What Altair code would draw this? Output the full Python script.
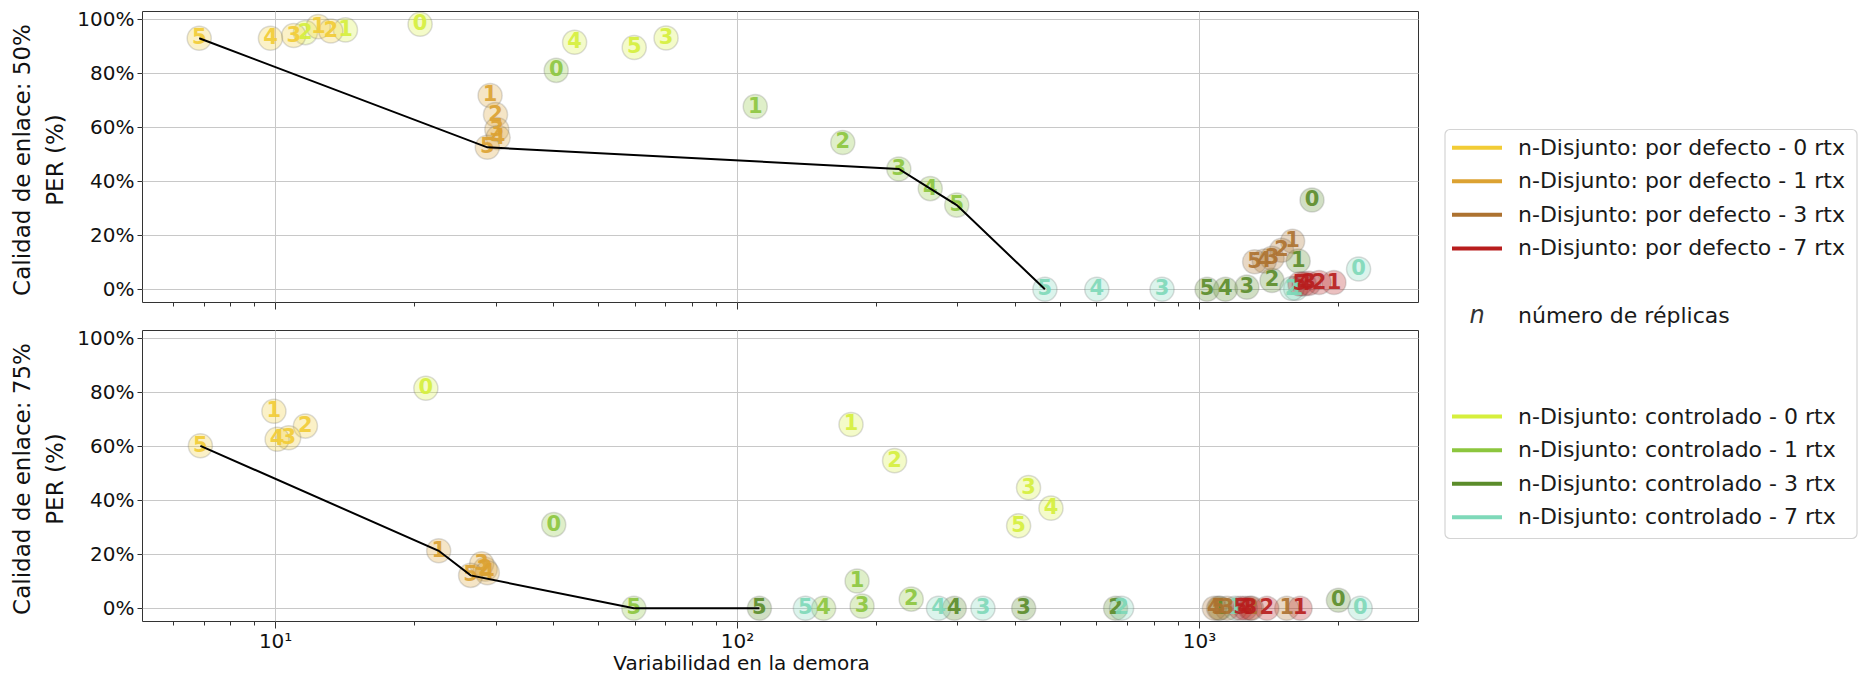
import altair as alt
import pandas as pd

# ---------------- data ----------------
SERIES = ["def0", "def1", "def3", "def7", "ctl0", "ctl1", "ctl3", "ctl7"]
COLORS = ["#F2CC35", "#DCA232", "#AD7230", "#B81D1D",
          "#D6EF3C", "#8CC63E", "#5B8C2A", "#7ED9B9"]
LEGEND_LABELS = [
    "n-Disjunto: por defecto - 0 rtx",
    "n-Disjunto: por defecto - 1 rtx",
    "n-Disjunto: por defecto - 3 rtx",
    "n-Disjunto: por defecto - 7 rtx",
    "n-Disjunto: controlado - 0 rtx",
    "n-Disjunto: controlado - 1 rtx",
    "n-Disjunto: controlado - 3 rtx",
    "n-Disjunto: controlado - 7 rtx",
]
LEGEND_ROWS = [0, 1, 2, 3, 8, 9, 10, 11]
REPLICA_SYMBOL = ["n"]
REPLICA_LABEL = ["número de réplicas"]
REPLICA_ROW = [5]

N_CTL = [0, 1, 2, 3, 4, 5]
N_DEF = [1, 2, 3, 4, 5]

# link quality 50 %
p50_ctl0_x = [20.6, 14.2, 11.63, 70.2, 44.5, 59.9]
p50_ctl0_y = [98.2, 96.1, 95.1, 93.1, 91.5, 89.6]
p50_ctl1_x = [40.6, 109.5, 169.4, 224, 262, 299]
p50_ctl1_y = [81.1, 67.7, 54.4, 44.6, 37.3, 31.2]
p50_ctl3_x = [1757, 1640, 1439, 1270, 1141, 1041]
p50_ctl3_y = [33.1, 10.5, 3.3, 0.8, 0.0, 0.0]
p50_ctl7_x = [2216, 1620, 1590, 832, 601, 464]
p50_ctl7_y = [7.5, 0.3, 0.3, 0.0, 0.0, 0.0]
p50_def0_x = [12.4, 13.2, 10.97, 9.77, 6.85]
p50_def0_y = [97.3, 95.7, 94.0, 93.0, 93.0]
p50_def1_x = [29.2, 30.0, 30.2, 30.4, 28.8]
p50_def1_y = [71.8, 64.7, 59.2, 56.2, 52.6]
p50_def3_x = [1595, 1510, 1440, 1385, 1320]
p50_def3_y = [17.8, 14.5, 11.5, 10.5, 10.2]
p50_def7_x = [1960, 1820, 1730, 1690, 1654]
p50_def7_y = [2.5, 2.5, 2.2, 2.0, 2.0]
p50_front_x = [6.85, 28.8, 224, 262, 299, 464]
p50_front_y = [93.0, 52.6, 44.6, 37.3, 31.2, 0.0]

# link quality 75 %
p75_ctl0_x = [21.2, 176.5, 219.3, 427.6, 478.2, 407]
p75_ctl0_y = [81.5, 68.1, 54.7, 44.7, 37.1, 30.6]
p75_ctl1_x = [40.1, 181.9, 238.3, 186.5, 154, 59.8]
p75_ctl1_y = [31.0, 10.1, 3.4, 0.8, 0.0, 0.0]
p75_ctl3_x = [2004, 1110, 660, 417.4, 295.4, 111.8]
p75_ctl3_y = [3.0, 0.0, 0.0, 0.0, 0.0, 0.0]
p75_ctl7_x = [2234, 1198, 680, 340.7, 273, 140.6]
p75_ctl7_y = [0.0, 0.0, 0.0, 0.0, 0.0, 0.0]
p75_def0_x = [9.94, 11.63, 10.7, 10.1, 6.89]
p75_def0_y = [73.0, 67.5, 63.2, 62.6, 60.2]
p75_def1_x = [22.6, 28.5, 28.0, 28.8, 26.5]
p75_def1_y = [21.3, 14.5, 16.5, 13.2, 12.2]
p75_def3_x = [1549, 1300, 1150, 1080, 1103]
p75_def3_y = [0.0, 0.0, 0.0, 0.0, 0.0]
p75_def7_x = [1656, 1403, 1290, 1260, 1230]
p75_def7_y = [0.0, 0.0, 0.0, 0.0, 0.0]
p75_front_x = [6.89, 22.6, 26.5, 59.8, 111.8]
p75_front_y = [60.2, 21.3, 12.2, 0.0, 0.0]

X_TICKS = [6, 7, 8, 9, 10, 20, 30, 40, 50, 60, 70, 80, 90,
           100, 200, 300, 400, 500, 600, 700, 800, 900, 1000, 2000]
Y_TICKS = [0, 20, 40, 60, 80, 100]

# ---------------- helpers ----------------
def points_frame(prefix):
    g = globals()
    order = ["ctl0", "ctl1", "ctl3", "ctl7", "def0", "def1", "def3", "def7"]
    rows = []
    for s in order:
        ns = N_CTL if s.startswith("ctl") else N_DEF
        xs = g[f"{prefix}_{s}_x"]
        ys = g[f"{prefix}_{s}_y"]
        for n, x, y in zip(ns, xs, ys):
            rows.append({"serie": s, "n": str(n), "x": x, "y": y})
    return pd.DataFrame(rows)


def front_frame(prefix):
    g = globals()
    xs = g[f"{prefix}_front_x"]
    ys = g[f"{prefix}_front_y"]
    return pd.DataFrame({"x": xs, "y": ys, "i": list(range(len(xs)))})


W = 1276
H = 291
GAP = 28
FONT = "DejaVu Sans"
MAJOR = "indexof([10, 100, 1000], datum.value) >= 0"

color_scale = alt.Scale(domain=SERIES, range=COLORS)
x_scale = alt.Scale(type="log", domain=[5.15, 2980], nice=False)
y_scale = alt.Scale(domain=[-4.7, 103.1], nice=False, zero=False)


def make_x_axis(bottom):
    kw = dict(
        values=X_TICKS,
        labelExpr="datum.value == 10 ? '10¹' : datum.value == 100 ? '10²' : datum.value == 1000 ? '10³' : ''",
        grid=True,
        gridColor="#c8c8c8",
        gridWidth=1,
        gridOpacity={"condition": {"test": MAJOR, "value": 1}, "value": 0},
        tickSize={"condition": {"test": MAJOR, "value": 7}, "value": 4},
        tickColor="#333333",
        domain=False,
        labelFontSize=20,
        labelFont=FONT,
        labelColor="#111111",
        labelPadding=3,
        labelFlush=False,
        labelOverlap=False,
        labels=bottom,
    )
    if bottom:
        kw.update(title="Variabilidad en la demora", titleFontSize=20,
                  titleFont=FONT, titleFontWeight="normal", titleColor="#111111",
                  titleX=599, titleY=42, titleBaseline="middle")
    else:
        kw.update(title="")
    return alt.Axis(**kw)


def make_y_axis(title_lines):
    return alt.Axis(
        values=Y_TICKS,
        labelExpr="datum.value + '%'",
        grid=True,
        gridColor="#c8c8c8",
        gridWidth=1,
        tickSize=5,
        tickColor="#333333",
        domain=False,
        labelFontSize=20,
        labelFont=FONT,
        labelColor="#111111",
        labelPadding=3,
        title=title_lines,
        titleFontSize=23,
        titleFont=FONT,
        titleFontWeight="normal",
        titleColor="#111111",
        titleLineHeight=33,
        titleBaseline="middle",
        titleX=-120,
        titleY=H / 2 + 3,
    )


def panel(prefix, title_lines, bottom):
    pts = points_frame(prefix)
    fr = front_frame(prefix)
    xax = make_x_axis(bottom)
    yax = make_y_axis(title_lines)
    xenc = alt.X("x:Q", scale=x_scale, axis=xax)
    yenc = alt.Y("y:Q", scale=y_scale, axis=yax)
    cenc = alt.Color("serie:N", scale=color_scale, legend=None)

    circles = alt.Chart(pts).mark_circle(
        size=580, opacity=1, fillOpacity=0.28,
        stroke="#666666", strokeOpacity=0.22, strokeWidth=1.5
    ).encode(x=xenc, y=yenc, color=cenc)

    labels = alt.Chart(pts).mark_text(
        font=FONT, fontSize=21, fontWeight="bold",
        align="center", baseline="middle", opacity=0.9
    ).encode(x=xenc, y=yenc, color=cenc, text="n:N")

    line = alt.Chart(fr).mark_line(color="black", strokeWidth=2).encode(
        x=xenc, y=yenc, order="i:Q"
    )
    return alt.layer(circles, labels, line).properties(width=W, height=H)


p1 = panel("p50", ["Calidad de enlace: 50%", "PER (%)"], False)
p2 = panel("p75", ["Calidad de enlace: 75%", "PER (%)"], True)

# ---------------- custom legend ----------------
LH = 2 * H + GAP
LW = 412
leg_df = pd.DataFrame({"serie": SERIES, "label": LEGEND_LABELS, "row": LEGEND_ROWS})
rep_df = pd.DataFrame({"sym": REPLICA_SYMBOL, "label": REPLICA_LABEL, "row": REPLICA_ROW})
row_scale = alt.Scale(domain=[-4.066, 14.084], range=[0, LH], nice=False, zero=False)
yrow = alt.Y("row:Q", scale=row_scale, axis=None)

box = alt.Chart(leg_df.head(1)).mark_rect(
    fill="white", stroke="#d4d4d4", strokeWidth=1.2, cornerRadius=5
).encode(x=alt.value(0), x2=alt.value(LW), y=alt.value(118.5), y2=alt.value(527.5))

leg_lines = alt.Chart(leg_df).mark_rule(strokeWidth=4).encode(
    x=alt.value(7), x2=alt.value(57), y=yrow,
    color=alt.Color("serie:N", scale=color_scale, legend=None)
)
leg_text = alt.Chart(leg_df).mark_text(
    align="left", baseline="middle", fontSize=22, font=FONT, color="#1a1a1a"
).encode(x=alt.value(73), y=yrow, text="label:N")
rep_sym = alt.Chart(rep_df).mark_text(
    align="center", baseline="middle", fontSize=24, font=FONT,
    fontStyle="italic", color="#333333"
).encode(x=alt.value(32), y=yrow, text="sym:N")
rep_text = alt.Chart(rep_df).mark_text(
    align="left", baseline="middle", fontSize=22, font=FONT, color="#1a1a1a"
).encode(x=alt.value(73), y=yrow, text="label:N")

legend = alt.layer(box, leg_lines, leg_text, rep_sym, rep_text).properties(
    width=LW, height=LH, view=alt.ViewBackground(strokeOpacity=0, strokeWidth=0)
)

left = alt.vconcat(p1, p2, spacing=GAP, bounds="flush").resolve_scale(
    x="independent", y="independent")

chart = alt.hconcat(left, legend, spacing=25).resolve_scale(
    x="independent", y="independent"
).properties(
    padding={"left": 2, "top": 0, "right": 0, "bottom": 0}
).configure(font=FONT).configure_view(stroke="#333333", strokeWidth=1)

chart.save("out.html", embed_options={"renderer": "svg", "actions": False})
